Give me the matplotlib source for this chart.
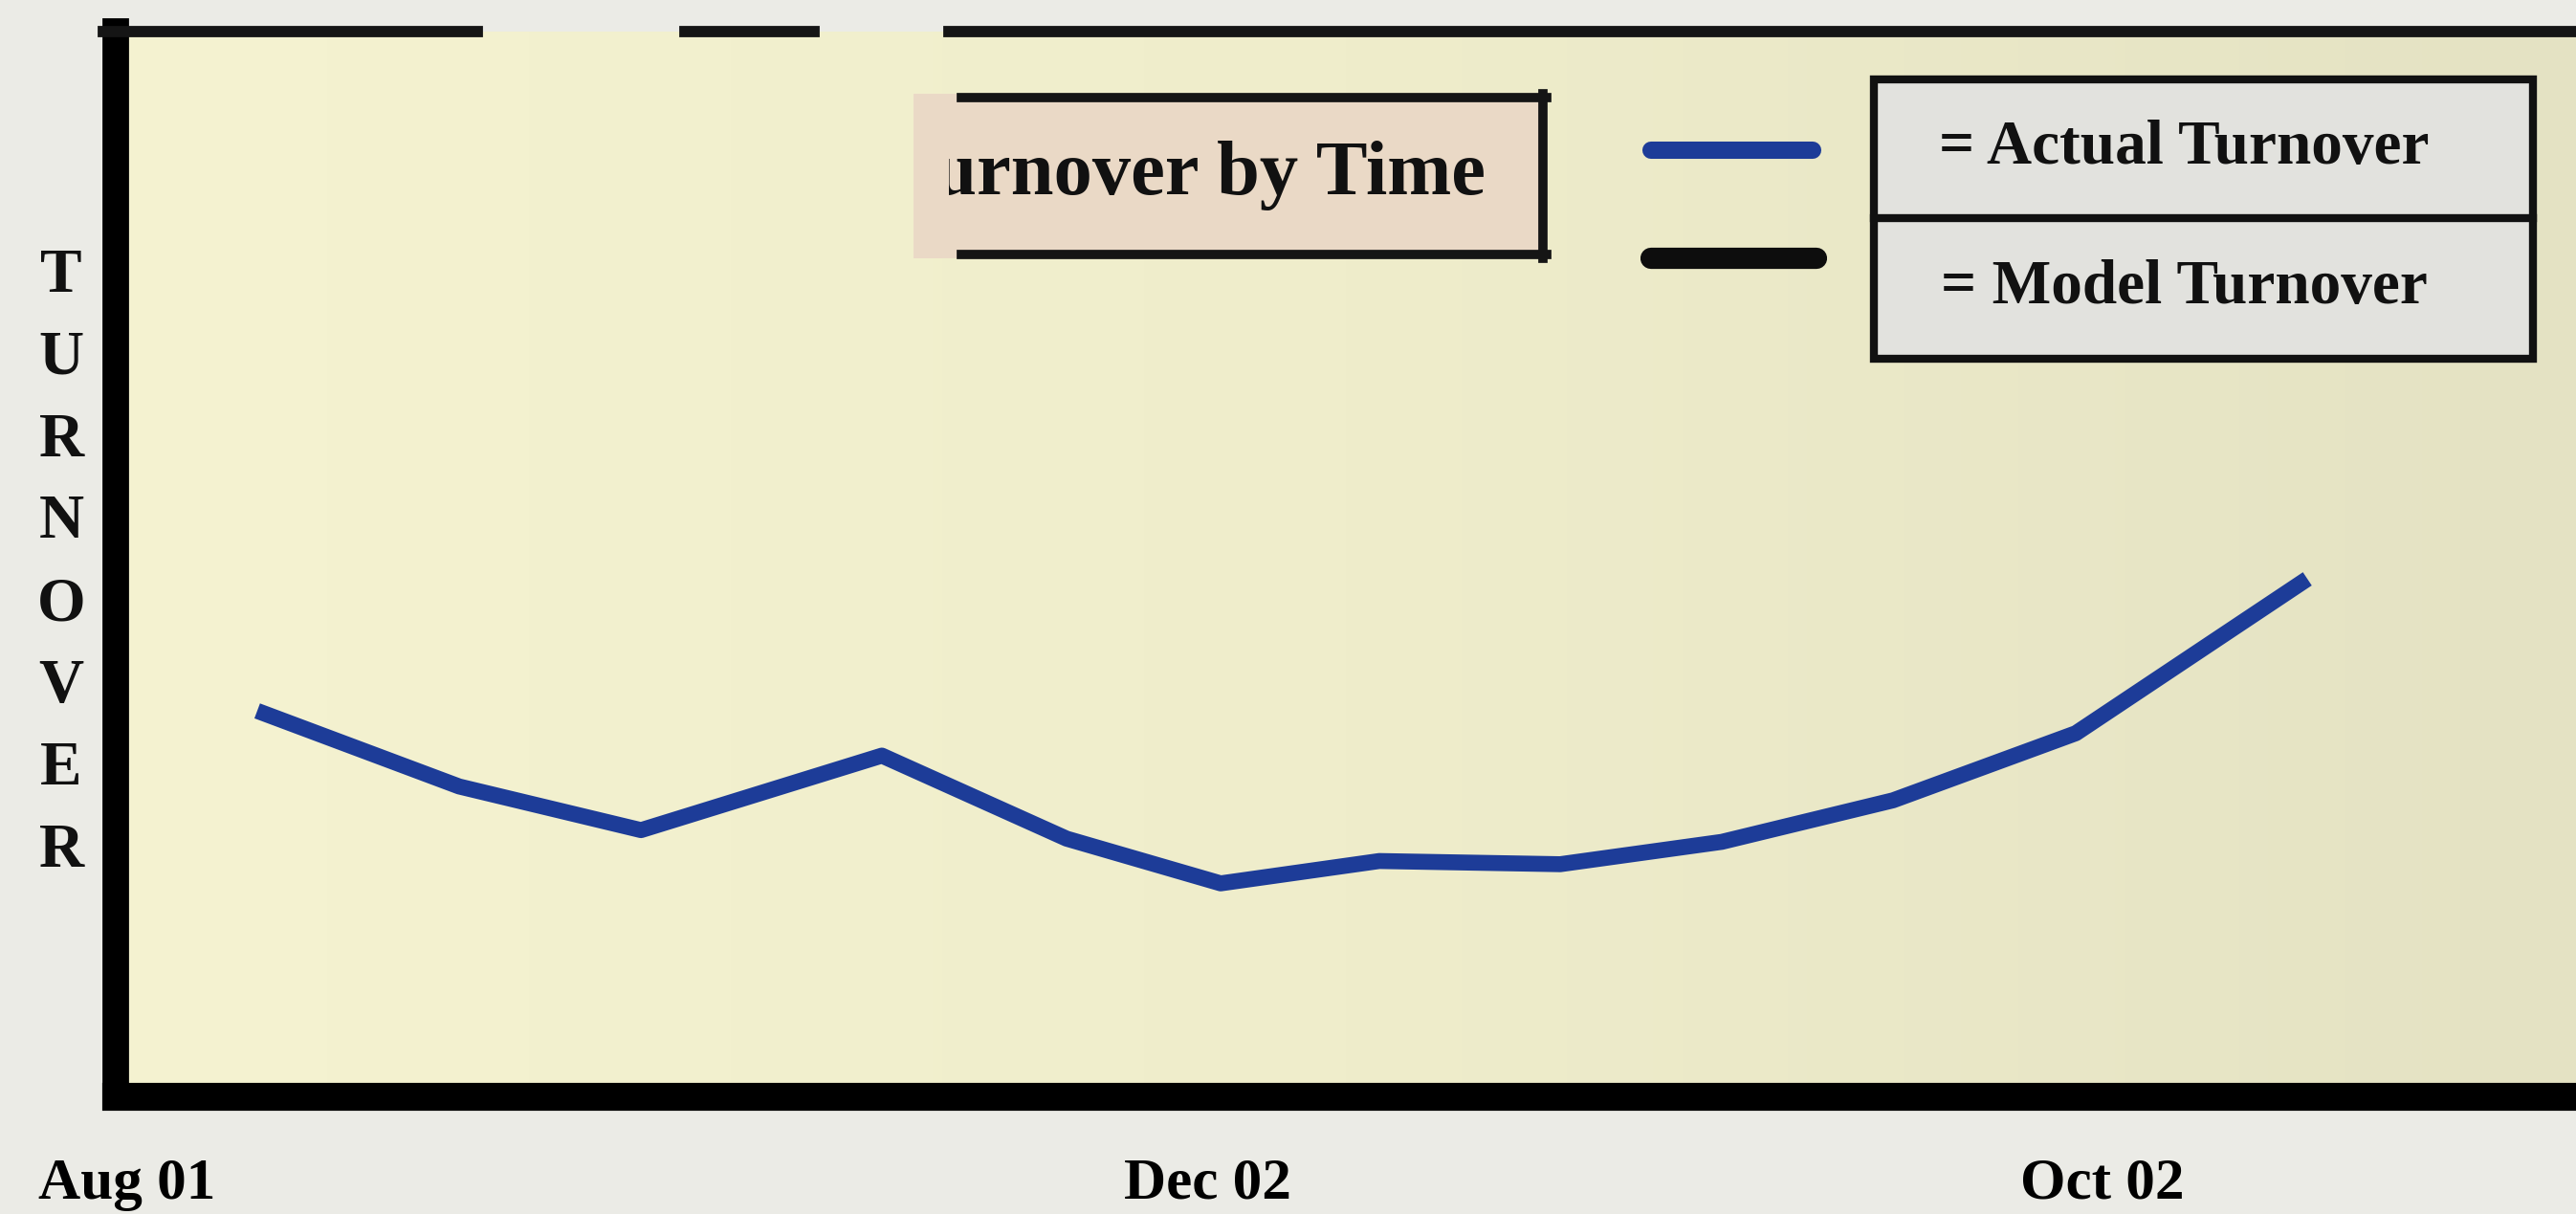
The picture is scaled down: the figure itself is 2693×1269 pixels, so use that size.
import matplotlib
matplotlib.use("Agg")
import matplotlib.pyplot as plt
import numpy as np
from matplotlib.patches import Rectangle
from matplotlib.lines import Line2D
from matplotlib.colors import LinearSegmentedColormap

# ---- data (arbitrary units) ----
period = [5.75, 13.96, 21.35, 31.14, 38.65, 44.91, 51.36, 58.71, 65.28, 72.24, 79.67, 89.08]
actual_turnover = [36.2, 29.1, 25.0, 32.0, 24.2, 20.0, 22.1, 21.8, 23.9, 27.8, 34.1, 48.6]
tick_positions = [0.47, 44.36, 80.75]
tick_labels = ["Aug 01", "Dec 02", "Oct 02"]
title_text = "Turnover by Time"
legend_labels = ["= Actual Turnover", "= Model Turnover"]
ylabel_text = "TURNOVER"

W, H = 2693, 1269
BLUE = "#1d3c98"
SERIF = ["Liberation Serif", "DejaVu Serif"]

fig = plt.figure(figsize=(W / 100, H / 100), dpi=100)
fig.patch.set_facecolor("#ebebe6")

def fx(px):
    return px / W

def fy(py):
    return 1 - py / H

L, R, T, B = 121, 2693, 33, 1146
ax = fig.add_axes([fx(L), fy(B), fx(R) - fx(L), fy(T) - fy(B)])
ax.set_xlim(0, 100)
ax.set_ylim(0, 100)

# background gradient of the slide
grad = np.linspace(0, 1, 256).reshape(1, -1)
cmap = LinearSegmentedColormap.from_list("bg", ["#f5f3d1", "#efedcb", "#e4e2c3"])
ax.imshow(grad, extent=[0, 1, 0, 1], transform=ax.transAxes, aspect="auto",
          cmap=cmap, zorder=0)

ax.plot(period, actual_turnover, color=BLUE, lw=12, solid_capstyle="butt",
        solid_joinstyle="round", zorder=3)

for s in ["top", "right"]:
    ax.spines[s].set_visible(False)
ax.spines["left"].set_linewidth(20)
ax.spines["bottom"].set_linewidth(21)
ax.spines["left"].set_color("black")
ax.spines["bottom"].set_color("black")
ax.spines["left"].set_capstyle("projecting")

# top border with washed-out gaps
for a, b in [(108, 499), (716, 851), (992, 2693)]:
    fig.add_artist(Line2D([fx(a), fx(b)], [fy(33), fy(33)], lw=8.5,
                          color="#151515", transform=fig.transFigure))

ax.set_yticks([])
ax.set_xticks(tick_positions)
ax.set_xticklabels(tick_labels, fontfamily=SERIF, fontweight="bold", fontsize=44)
ax.tick_params(axis="x", length=0, pad=46)

# vertical stacked y label
for i, ch in enumerate(ylabel_text):
    fig.text(fx(64), fy(289 + i * 85.8), ch, ha="center", va="center",
             fontfamily=SERIF, fontweight="bold", fontsize=47, color="#111111")

# title box (left part washed out)
tbox = Rectangle((fx(955), fy(270)), fx(1617) - fx(955), fy(98) - fy(270),
                 transform=fig.transFigure, facecolor="#ead9c6", edgecolor="none", zorder=4)
fig.add_artist(tbox)
for (x0, y0, x1, y1) in [(1005, 102, 1617, 102), (1005, 266, 1617, 266), (1613, 98, 1613, 270)]:
    fig.add_artist(Line2D([fx(x0), fx(x1)], [fy(y0), fy(y1)], lw=7, color="#151515",
                          transform=fig.transFigure, zorder=5))
clipbox = Rectangle((fx(992), fy(270)), fx(1617) - fx(992), fy(98) - fy(270),
                    transform=fig.transFigure, facecolor="none", edgecolor="none")
fig.add_artist(clipbox)
tt = fig.text(fx(1553), fy(203), title_text, ha="right", va="baseline",
              fontfamily=SERIF, fontweight="bold", fontsize=58, color="#111111", zorder=6)
tt.set_clip_path(clipbox)

# legend samples
fig.add_artist(Line2D([fx(1726), fx(1895)], [fy(157), fy(157)], lw=13, color=BLUE,
                      solid_capstyle="round", transform=fig.transFigure))
fig.add_artist(Line2D([fx(1726), fx(1899)], [fy(270), fy(270)], lw=16, color="#0d0d0d",
                      solid_capstyle="round", transform=fig.transFigure))

# legend box
lbox = Rectangle((fx(1959), fy(375)), fx(2648) - fx(1959), fy(83) - fy(375),
                 transform=fig.transFigure, facecolor="#e2e2de", edgecolor="#111111",
                 lw=6, zorder=4)
fig.add_artist(lbox)
fig.add_artist(Line2D([fx(1959), fx(2648)], [fy(228), fy(228)], lw=6, color="#111111",
                      transform=fig.transFigure, zorder=5))
for lab, yc in zip(legend_labels, [155, 301]):
    fig.text(fx(2283), fy(yc), lab, ha="center", va="center", fontfamily=SERIF,
             fontweight="bold", fontsize=47, color="#111111", zorder=6)

fig.savefig("out.png", dpi=100, facecolor=fig.get_facecolor())
